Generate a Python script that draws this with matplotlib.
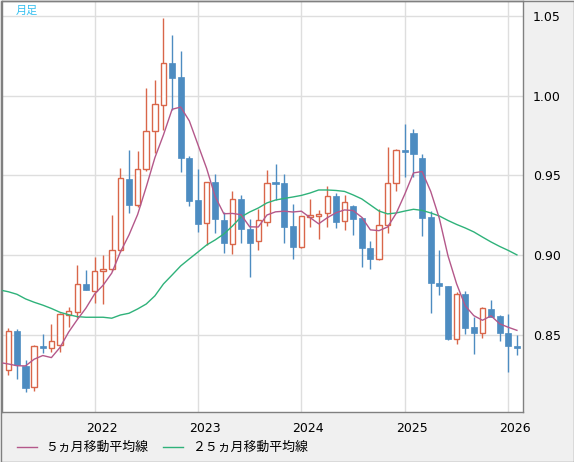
import matplotlib
matplotlib.use("Agg")
import matplotlib.pyplot as plt
import matplotlib.transforms as mtransforms
from matplotlib.lines import Line2D
from matplotlib.patches import Rectangle
import numpy as np
import pandas as pd

# monthly candles, Mar 2021 .. Feb 2026
months = pd.date_range("2021-03-01", periods=60, freq="MS")

opens = [0.8280, 0.8525, 0.8306, 0.8172, 0.8431, 0.8420, 0.8440, 0.8625, 0.8642, 0.8820,
         0.8778, 0.8900, 0.8912, 0.9033, 0.9476, 0.9313, 0.9539, 0.9777, 0.9940, 1.0203,
         1.0116, 0.9608, 0.9346, 0.9200, 0.9459, 0.9221, 0.9069, 0.9351, 0.9165, 0.9087,
         0.9210, 0.9457, 0.9455, 0.9183, 0.9054, 0.9242, 0.9248, 0.9263, 0.9371, 0.9213,
         0.9309, 0.9232, 0.9045, 0.8975, 0.9188, 0.9451, 0.9658, 0.9766, 0.9610, 0.9242,
         0.8828, 0.8807, 0.8477, 0.8757, 0.8550, 0.8510, 0.8661, 0.8619, 0.8510, 0.8429]
highs = [0.8542, 0.8540, 0.8341, 0.8437, 0.8504, 0.8569, 0.8635, 0.8677, 0.8939, 0.8908,
         0.8990, 0.8999, 0.9252, 0.9545, 0.9660, 0.9654, 1.0049, 1.0099, 1.0490, 1.0380,
         1.0281, 0.9622, 0.9539, 0.9460, 0.9508, 0.9273, 0.9403, 0.9378, 0.9225, 0.9288,
         0.9534, 0.9572, 0.9509, 0.9321, 0.9245, 0.9351, 0.9282, 0.9434, 0.9392, 0.9376,
         0.9315, 0.9240, 0.9089, 0.9288, 0.9677, 0.9664, 0.9823, 0.9790, 0.9633, 0.9278,
         0.9033, 0.8810, 0.8768, 0.8776, 0.8611, 0.8677, 0.8719, 0.8625, 0.8632, 0.8498]
lows = [0.8251, 0.8226, 0.8143, 0.8149, 0.8389, 0.8395, 0.8390, 0.8552, 0.8605, 0.8780,
        0.8703, 0.8696, 0.8900, 0.9020, 0.9267, 0.9300, 0.9530, 0.9639, 0.9785, 0.9911,
        0.9524, 0.9311, 0.9148, 0.9064, 0.9141, 0.9011, 0.9008, 0.9079, 0.8866, 0.9033,
        0.9183, 0.9346, 0.9075, 0.8975, 0.9047, 0.9175, 0.9104, 0.9179, 0.9171, 0.9158,
        0.9127, 0.8924, 0.8916, 0.8970, 0.9138, 0.9405, 0.9493, 0.9493, 0.9123, 0.8636,
        0.8751, 0.8470, 0.8444, 0.8506, 0.8381, 0.8483, 0.8610, 0.8464, 0.8270, 0.8375]
closes = [0.8525, 0.8314, 0.8170, 0.8430, 0.8418, 0.8460, 0.8630, 0.8650, 0.8820, 0.8782,
          0.8900, 0.8912, 0.9033, 0.9482, 0.9313, 0.9539, 0.9777, 0.9946, 1.0203, 1.0113,
          0.9608, 0.9342, 0.9198, 0.9459, 0.9225, 0.9074, 0.9351, 0.9163, 0.9079, 0.9221,
          0.9451, 0.9449, 0.9179, 0.9054, 0.9244, 0.9250, 0.9257, 0.9371, 0.9210, 0.9334,
          0.9229, 0.9044, 0.8975, 0.9188, 0.9451, 0.9658, 0.9647, 0.9637, 0.9235, 0.8824,
          0.8809, 0.8477, 0.8757, 0.8546, 0.8513, 0.8667, 0.8615, 0.8510, 0.8433, 0.8420]

# moving averages, Feb 2021 .. Feb 2026
ma5 = [0.8327, 0.8318, 0.8307, 0.8306, 0.8348,
       0.8371, 0.8358, 0.8422, 0.8518, 0.8596, 0.8668, 0.8756, 0.8812, 0.8888, 0.9020,
       0.9127, 0.9255, 0.9428, 0.9611, 0.9755, 0.9915, 0.9929, 0.9842, 0.9693, 0.9545,
       0.9367, 0.9260, 0.9262, 0.9254, 0.9178, 0.9177, 0.9252, 0.9272, 0.9276, 0.9271,
       0.9276, 0.9236, 0.9197, 0.9235, 0.9266, 0.9284, 0.9280, 0.9238, 0.9159, 0.9154,
       0.9177, 0.9263, 0.9384, 0.9516, 0.9525, 0.9400, 0.9231, 0.8997, 0.8821, 0.8683,
       0.8621, 0.8592, 0.8620, 0.8570, 0.8548, 0.8529]
ma25 = [0.8782, 0.8771, 0.8755, 0.8726, 0.8705, 0.8687, 0.8666, 0.8642, 0.8627, 0.8615,
        0.8611, 0.8611, 0.8611, 0.8605, 0.8625, 0.8636, 0.8663, 0.8694, 0.8745, 0.8820,
        0.8876, 0.8933, 0.8977, 0.9020, 0.9064, 0.9096, 0.9133, 0.9183, 0.9240, 0.9271,
        0.9296, 0.9328, 0.9346, 0.9356, 0.9365, 0.9375, 0.9390, 0.9409, 0.9409, 0.9406,
        0.9400, 0.9378, 0.9353, 0.9315, 0.9277, 0.9259, 0.9265, 0.9277, 0.9288, 0.9281,
        0.9265, 0.9246, 0.9218, 0.9193, 0.9171, 0.9146, 0.9114, 0.9083, 0.9055, 0.9030,
        0.9002]

yticks = [0.85, 0.90, 0.95, 1.00, 1.05]
legend_labels = ["５ヵ月移動平均線", "２５ヵ月移動平均線"]

UP = "#d9664a"
DOWN = "#4d8cc1"
MA5_C = "#b4588a"
MA25_C = "#2fb27a"

W, H = 574, 462
fig = plt.figure(figsize=(W / 100, H / 100), dpi=100, facecolor="#f0f0f0")
ax = fig.add_axes([1.5 / W, 1 - 412.3 / H, (523.3 - 1.5) / W, (412.3 - 1) / H])
ax.set_facecolor("white")

o = np.array(opens)
c = np.array(closes)
x = np.arange(len(o))
up = c >= o

ax.vlines(x[up], np.array(lows)[up], np.array(highs)[up], color=UP, lw=1, zorder=2)
ax.vlines(x[~up], np.array(lows)[~up], np.array(highs)[~up], color=DOWN, lw=1, zorder=2)
bw = 0.64
ax.bar(x[up], np.maximum(c - o, 0.0006)[up], bottom=o[up], width=bw,
       facecolor="white", edgecolor=UP, linewidth=1, zorder=3)
ax.bar(x[~up], np.maximum(o - c, 0.0008)[~up], bottom=c[~up], width=bw + 0.08,
       facecolor=DOWN, edgecolor=DOWN, linewidth=0.5, zorder=3)

xm = np.arange(-1, len(o))
ax.plot(xm, ma25, color=MA25_C, lw=1, zorder=4)
ax.plot(xm, ma5, color=MA5_C, lw=1, zorder=4)

ax.set_xlim(-0.79, 59.74)
ax.set_ylim(0.8015, 1.0594)

jan = [i for i, m in enumerate(months) if m.month == 1]
ax.set_xticks(jan)
ax.set_xticklabels([str(months[i].year) for i in jan])
ax.set_yticks(yticks)
ax.set_yticklabels([f"{v:.2f}" for v in yticks])
ax.yaxis.tick_right()
ax.tick_params(axis="both", length=0, labelsize=9, colors="black")
ax.tick_params(axis="x", pad=7)
ax.tick_params(axis="y", pad=7)
shift = mtransforms.ScaledTranslation(7 / 100, 0, fig.dpi_scale_trans)
for lab in ax.get_xticklabels():
    lab.set_transform(lab.get_transform() + shift)

ax.grid(True, color="#dedede", lw=1, zorder=0)
ax.set_axisbelow(True)
for s in ax.spines.values():
    s.set_color("#808080")
    s.set_linewidth(1)

fig.text(16 / W, 1 - 10.5 / H, "月足", color="#36c0f0", fontsize=8,
         family=["Noto Sans CJK JP", "DejaVu Sans"], va="center", ha="left")

# legend strip at the bottom
ly = 1 - 447 / H
for (x0, x1, tx), col, lab in zip([(16.5, 36.6, 45), (163, 183, 192)],
                                  [MA5_C, MA25_C], legend_labels):
    fig.add_artist(Line2D([x0 / W, x1 / W], [ly, ly], color=col, lw=1,
                          transform=fig.transFigure))
    fig.text(tx / W, ly, lab, fontsize=9.3, va="center", ha="left",
             family=["Noto Sans CJK JP", "DejaVu Sans"])

fig.add_artist(Rectangle((0.5 / W, 0.5 / H), 1 - 1 / W, 1 - 1 / H, fill=False,
                         edgecolor="#808080", lw=1, transform=fig.transFigure))

fig.savefig("out.png", dpi=100, facecolor=fig.get_facecolor())
